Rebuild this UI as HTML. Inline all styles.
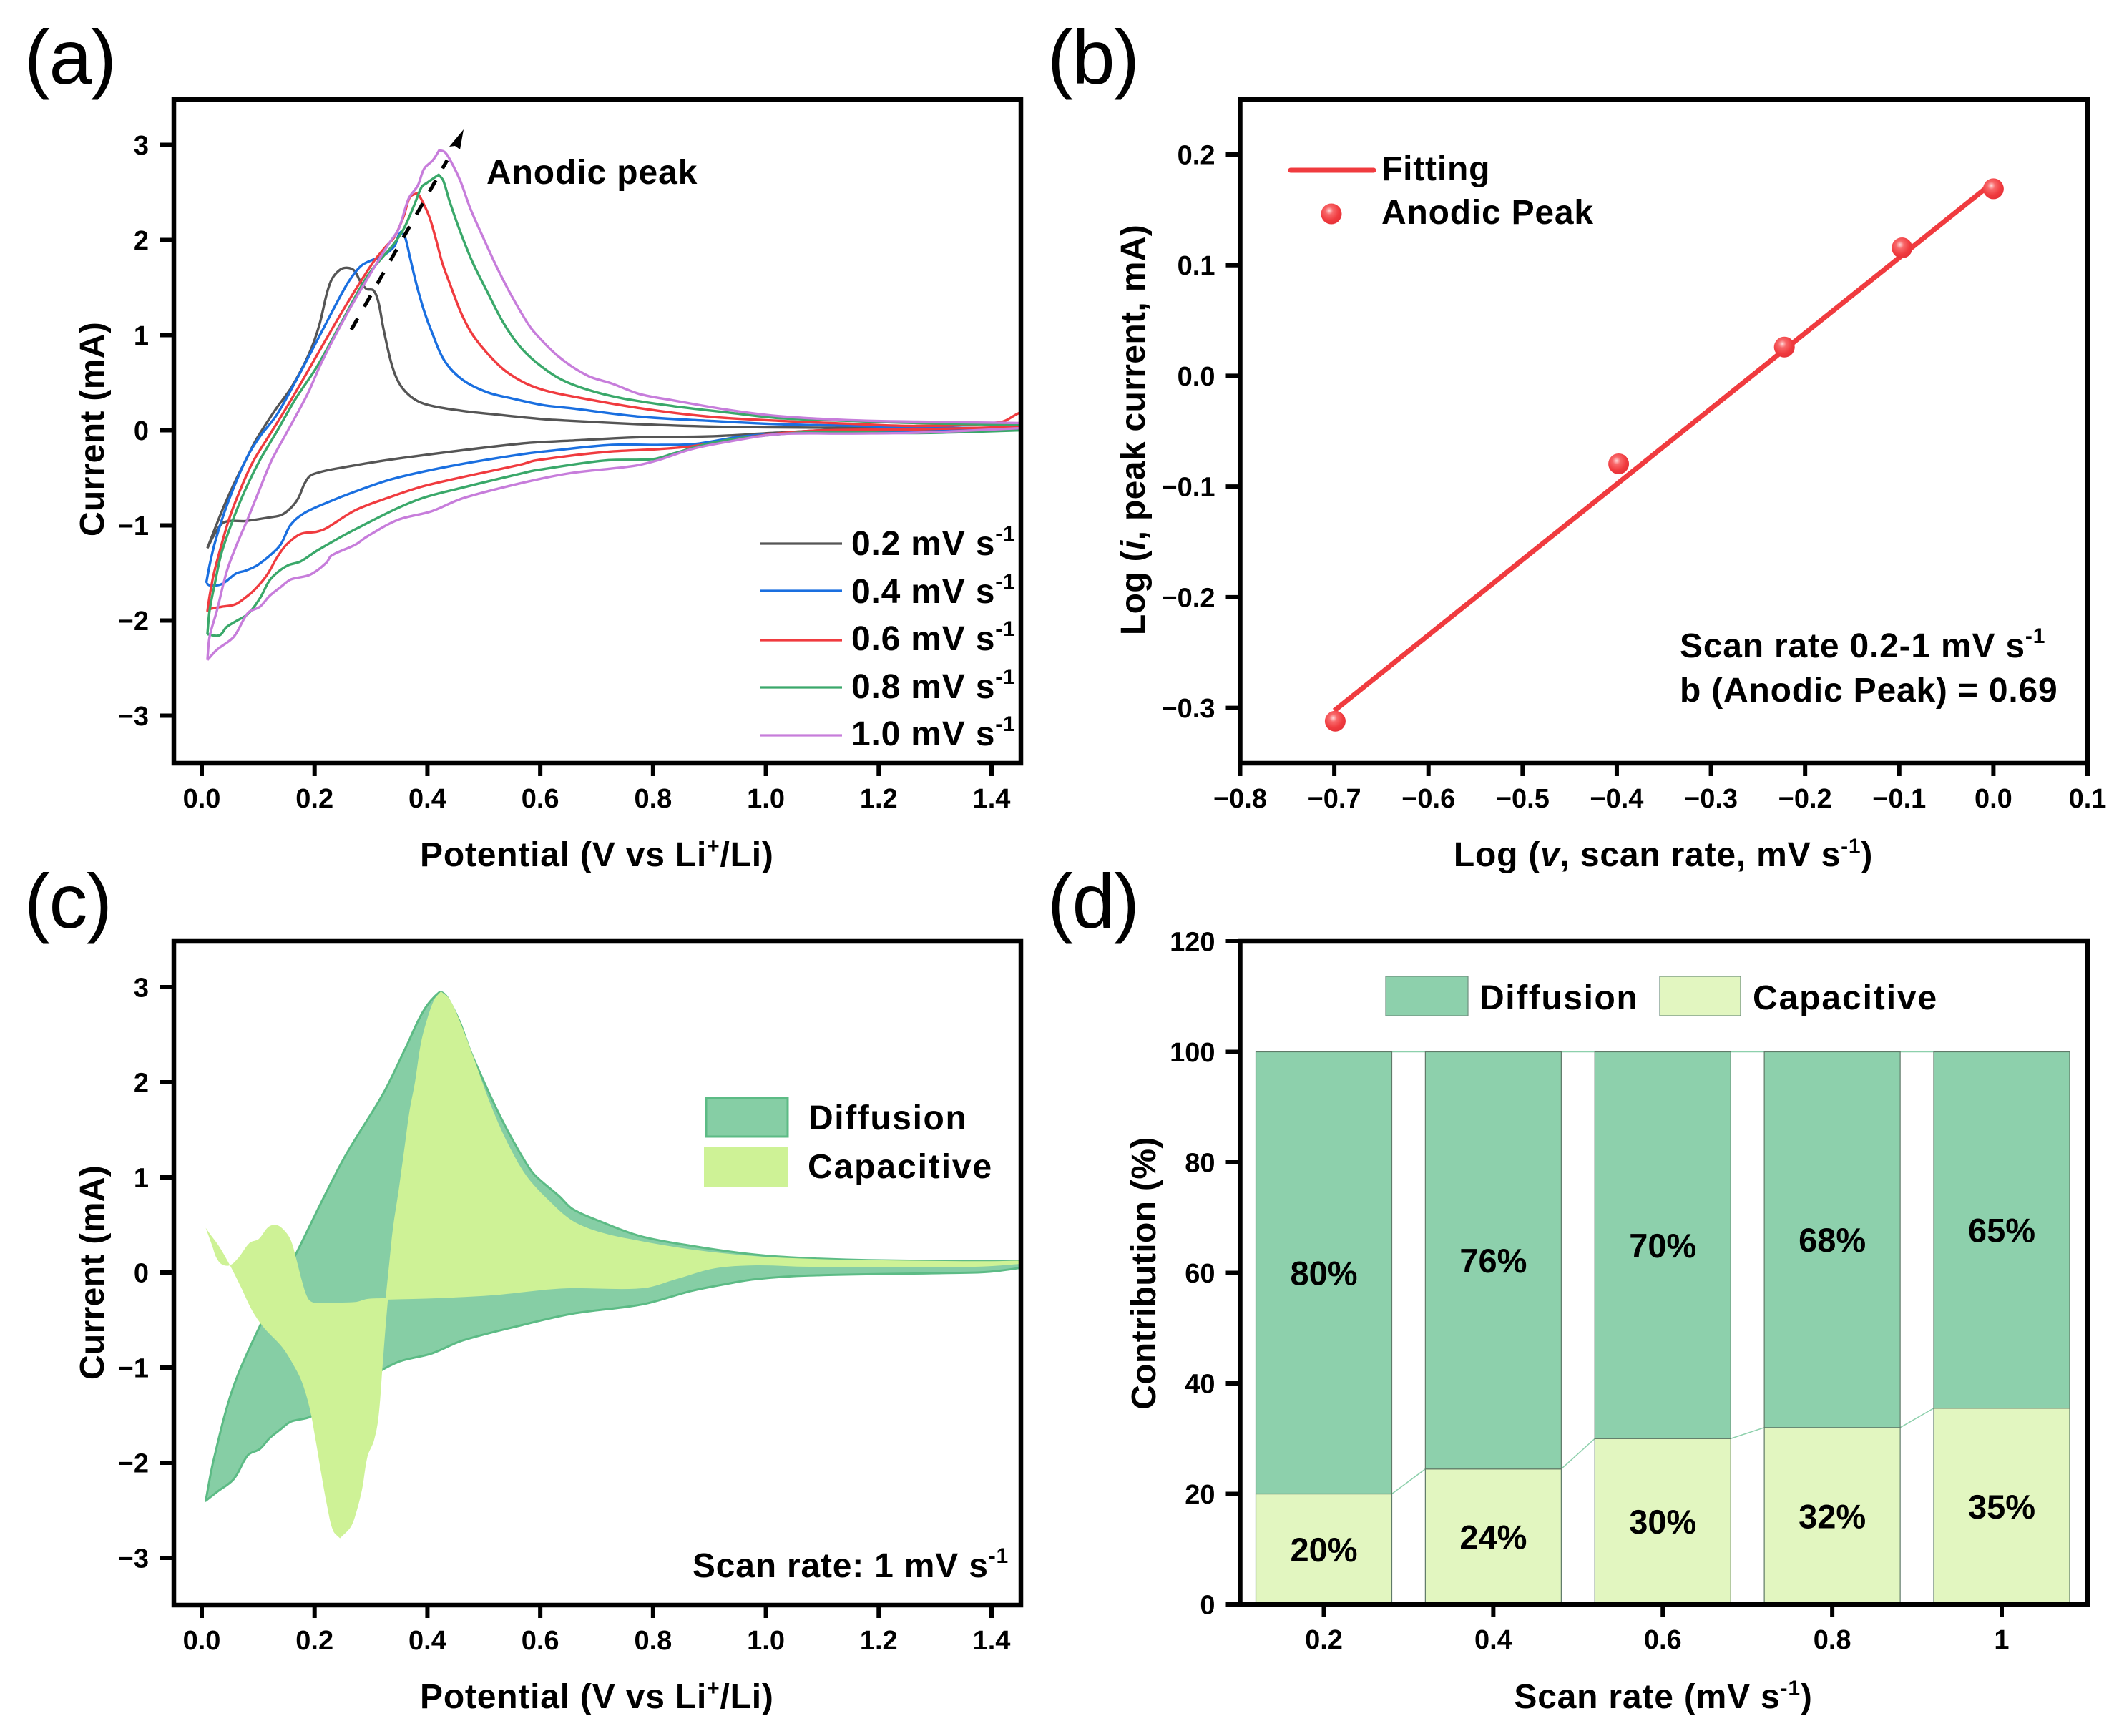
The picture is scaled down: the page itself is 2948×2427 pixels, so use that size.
<!DOCTYPE html>
<html lang="en">
<head>
<meta charset="utf-8">
<title>Electrochemical kinetics figure</title>
<style>
html,body{margin:0;padding:0;background:#fff;}
svg{display:block;}
text{font-family:"Liberation Sans",Arial,sans-serif;fill:#000;}
.t{font-weight:bold;font-size:48px;letter-spacing:.8px;}
.yt{letter-spacing:.35px;}
.s{font-size:30px;}
.lg{font-weight:bold;font-size:48px;letter-spacing:1.6px;}
.p{font-size:108px;font-weight:normal;letter-spacing:-1.5px;}
.tick{font-weight:bold;font-size:38px;}
.pct{font-weight:bold;font-size:47px;text-anchor:middle;}
</style>
</head>
<body>
<svg id="fig" xmlns="http://www.w3.org/2000/svg" width="2948" height="2427" viewBox="0 0 2948 2427">
  <defs>
    <clipPath id="clipA"><rect x="243" y="139" width="1184" height="928"/></clipPath>
    <clipPath id="clipC"><rect x="243" y="1316" width="1184" height="928"/></clipPath>
    <radialGradient id="ball" cx="0.4" cy="0.35" r="0.62">
      <stop offset="0" stop-color="#ffd9d9"/>
      <stop offset="0.3" stop-color="#f8686a"/>
      <stop offset="0.75" stop-color="#f03b3f"/>
      <stop offset="1" stop-color="#e8343a"/>
    </radialGradient>
  </defs>

  <g id="panelA">
    <g id="plotA" clip-path="url(#clipA)"></g>
    <line x1="491" y1="461" x2="625" y2="224" stroke="#000" stroke-width="5" stroke-dasharray="18 19"/>
    <polygon points="648,181 628,205 636,204 643,209" fill="#000"/>
    <text class="t" x="680" y="257" style="letter-spacing:.9px">Anodic peak</text>
    <text class="t yt" text-anchor="middle" transform="translate(145,600) rotate(-90)">Current (mA)</text>
    <text class="t" x="587" y="1211">Potential (V vs Li<tspan class="s" dy="-18">+</tspan><tspan dy="18">/Li)</tspan></text>
    <g>
      <line x1="1063" x2="1177" y1="760" y2="760" stroke="#555555" stroke-width="3.2"/>
      <text class="t" x="1190" y="776">0.2 mV s<tspan class="s" dy="-20">-1</tspan></text>
      <line x1="1063" x2="1177" y1="826" y2="826" stroke="#1a6fe0" stroke-width="3.2"/>
      <text class="t" x="1190" y="843">0.4 mV s<tspan class="s" dy="-20">-1</tspan></text>
      <line x1="1063" x2="1177" y1="895" y2="895" stroke="#f03b3f" stroke-width="3.2"/>
      <text class="t" x="1190" y="909">0.6 mV s<tspan class="s" dy="-20">-1</tspan></text>
      <line x1="1063" x2="1177" y1="961" y2="961" stroke="#3aa86a" stroke-width="3.2"/>
      <text class="t" x="1190" y="976">0.8 mV s<tspan class="s" dy="-20">-1</tspan></text>
      <line x1="1063" x2="1177" y1="1028" y2="1028" stroke="#c77ddb" stroke-width="3.2"/>
      <text class="t" x="1190" y="1042">1.0 mV s<tspan class="s" dy="-20">-1</tspan></text>
    </g>
    <text class="p" x="34" y="117">(a)</text>
  </g>

  <g id="panelB">
    <g id="plotB"></g>
    <line x1="1804" x2="1920" y1="238" y2="238" stroke="#f03b3f" stroke-width="7" stroke-linecap="round"/>
    <text class="t" x="1931" y="252">Fitting</text>
    <circle cx="1861" cy="299" r="14.5" fill="url(#ball)"/>
    <text class="t" x="1931" y="313">Anodic Peak</text>
    <text class="t" x="2348" y="919">Scan rate 0.2-1 mV s<tspan class="s" dy="-20">-1</tspan></text>
    <text class="t" x="2348" y="981">b (Anodic Peak) = 0.69</text>
    <text class="t yt" text-anchor="middle" transform="translate(1600,601) rotate(-90)">Log (<tspan font-style="italic">i</tspan>, peak current, mA)</text>
    <text class="t" text-anchor="middle" x="2325" y="1211">Log (<tspan font-style="italic">v</tspan>, scan rate, mV s<tspan class="s" dy="-18">-1</tspan><tspan dy="18">)</tspan></text>
    <text class="p" x="1464" y="117">(b)</text>
  </g>

  <g id="panelC">
    <g id="plotC" clip-path="url(#clipC)"></g>
    <rect x="987" y="1535" width="114" height="54" fill="#86cea5" stroke="#5cbb85" stroke-width="3"/>
    <text class="lg" x="1130" y="1579">Diffusion</text>
    <rect x="984" y="1603" width="118" height="57" fill="#cef296"/>
    <text class="lg" x="1129" y="1647" style="letter-spacing:1.9px">Capacitive</text>
    <text class="t" text-anchor="end" x="1410" y="2205">Scan rate: 1 mV s<tspan class="s" dy="-20">-1</tspan></text>
    <text class="t yt" text-anchor="middle" transform="translate(145,1779) rotate(-90)">Current (mA)</text>
    <text class="t" x="587" y="2388">Potential (V vs Li<tspan class="s" dy="-18">+</tspan><tspan dy="18">/Li)</tspan></text>
    <text class="p" x="34" y="1297">(c)</text>
  </g>

  <g id="panelD">
    <g id="plotD"></g>
    <rect x="1937" y="1365" width="115" height="55" fill="#8dd0ac" stroke="#6f8f7e" stroke-width="1.2"/>
    <text class="lg" x="2068" y="1411">Diffusion</text>
    <rect x="2320" y="1365" width="113" height="55" fill="#e2f6c0" stroke="#6f8f7e" stroke-width="1.2"/>
    <text class="lg" x="2450" y="1411" style="letter-spacing:1.9px">Capacitive</text>
    <text class="t yt" text-anchor="middle" transform="translate(1615,1780) rotate(-90)">Contribution (%)</text>
    <text class="t" text-anchor="middle" x="2325" y="2388">Scan rate (mV s<tspan class="s" dy="-18">-1</tspan><tspan dy="18">)</tspan></text>
    <text class="p" x="1464" y="1297">(d)</text>
  </g>
</svg>

<script>
// ---- panel (a): cyclic voltammetry loops, potential (V) and current (mA)
const cv02V = [.010,.023,.040,.061,.078,.095,.112,.133,.159,.190,.208,.222,.231,.245,.257,.270,.281,.292,.304,.313,.322,.338,.353,.376,.403,.462,.530,.606,.653,.776,.899,1.02,1.206,1.46,1.46,1.145,1.02,.899,.776,.653,.568,.357,.264,.196,.183,.171,.158,.141,.120,.078,.040,.023,.010];
const cv02I = [-1.24,-1.04,-.79,-.515,-.315,-.114,.049,.237,.451,.80,1.096,1.445,1.593,1.687,1.708,1.681,1.566,1.485,1.472,1.351,1.069,.666,.465,.33,.263,.204,.160,.116,.099,.063,.039,.03,.024,.024,.02,.009,-.026,-.065,-.074,-.11,-.139,-.29,-.377,-.465,-.553,-.716,-.816,-.891,-.916,-.954,-.966,-1.09,-1.24];

const cv04V = [.008,.014,.023,.040,.061,.082,.104,.133,.168,.213,.254,.272,.285,.304,.317,.331,.342,.349,.353,.360,.369,.381,.394,.408,.430,.462,.507,.553,.606,.653,.776,.899,1.022,1.145,1.268,1.46,1.46,1.268,1.083,.960,.874,.813,.727,.622,.568,.441,.336,.268,.230,.183,.158,.141,.128,.099,.078,.061,.035,.014,.008];
const cv04I = [-1.605,-1.417,-1.19,-.866,-.54,-.265,-.059,.162,.532,1.04,1.50,1.66,1.74,1.794,1.82,1.875,1.94,2.05,2.084,2.036,1.82,1.525,1.257,1.03,.733,.532,.398,.33,.263,.232,.143,.099,.063,.048,.03,.018,.02,-.006,-.02,-.065,-.145,-.154,-.154,-.214,-.252,-.377,-.515,-.653,-.741,-.866,-.991,-1.19,-1.28,-1.417,-1.475,-1.505,-1.618,-1.63,-1.605];

const cv06V = [.010,.014,.021,.031,.048,.069,.090,.116,.145,.175,.213,.258,.304,.326,.342,.358,.369,.381,.387,.403,.415,.426,.439,.462,.485,.530,.567,.604,.653,.776,.899,1.022,1.145,1.268,1.415,1.446,1.47,1.47,1.268,1.083,.960,.868,.807,.714,.591,.568,.399,.327,.272,.221,.204,.175,.150,.133,.116,.095,.078,.059,.035,.014,.010];
const cv06I = [-1.906,-1.743,-1.518,-1.292,-.941,-.615,-.34,-.089,.187,.487,.88,1.337,1.767,1.928,2.036,2.25,2.452,2.492,2.452,2.25,2.009,1.767,1.552,1.203,.962,.665,.515,.426,.36,.232,.143,.099,.069,.045,.084,.173,.24,.04,.009,-.005,-.08,-.169,-.199,-.229,-.318,-.357,-.578,-.716,-.841,-1.029,-1.066,-1.092,-1.204,-1.342,-1.518,-1.668,-1.756,-1.831,-1.856,-1.881,-1.906];

const cv08V = [.010,.014,.023,.035,.057,.078,.103,.133,.167,.204,.249,.295,.340,.358,.376,.390,.399,.420,.428,.439,.458,.480,.507,.534,.561,.591,.634,.684,.745,.837,.93,1.022,1.145,1.268,1.46,1.46,1.268,1.083,.96,.899,.837,.80,.714,.591,.568,.462,.378,.272,.204,.175,.154,.137,.120,.103,.082,.061,.044,.031,.010];
const cv08I = [-2.144,-1.894,-1.618,-1.292,-.916,-.615,-.315,-.014,.337,.666,1.15,1.633,1.955,2.116,2.358,2.56,2.6,2.686,2.626,2.412,2.09,1.767,1.445,1.136,.901,.723,.544,.426,.336,.253,.188,.128,.099,.075,.054,0,-.03,-.02,-.08,-.139,-.243,-.303,-.318,-.422,-.452,-.603,-.741,-1.041,-1.267,-1.38,-1.417,-1.48,-1.58,-1.768,-1.931,-2.006,-2.069,-2.157,-2.144];

const cv10V = [.010,.014,.027,.044,.061,.080,.103,.124,.154,.188,.213,.258,.295,.331,.349,.367,.383,.394,.410,.421,.430,.439,.458,.476,.498,.521,.544,.575,.591,.634,.684,.727,.776,.837,.93,1.022,1.145,1.268,1.46,1.46,1.268,1.145,1.022,.93,.868,.807,.764,.653,.568,.462,.407,.348,.293,.272,.230,.221,.192,.158,.141,.120,.103,.082,.057,.027,.010];
const cv10I = [-2.415,-2.17,-1.894,-1.49,-1.217,-.953,-.615,-.315,.011,.387,.72,1.23,1.606,1.955,2.116,2.438,2.573,2.747,2.841,2.943,2.927,2.855,2.626,2.331,2.036,1.74,1.47,1.15,1.02,.767,.574,.491,.381,.313,.217,.149,.107,.09,.075,.024,-.026,-.035,-.041,-.124,-.199,-.318,-.377,-.451,-.553,-.716,-.853,-.941,-1.117,-1.204,-1.317,-1.392,-1.518,-1.568,-1.643,-1.743,-1.856,-1.919,-2.17,-2.307,-2.415];

const seriesNames = ['cv-curve-0-2','cv-curve-0-4','cv-curve-0-6','cv-curve-0-8','cv-curve-1-0'];
const seriesColors = ['#555555','#1a6fe0','#f03b3f','#3aa86a','#c77ddb'];

const potentialTicks = [0,.2,.4,.6,.8,1,1.2,1.4];
const potentialLabels = ['0.0','0.2','0.4','0.6','0.8','1.0','1.2','1.4'];
const currentTicks = [3,2,1,0,-1,-2,-3];
const currentLabels = ['3','2','1','0','\u22121','\u22122','\u22123'];

// ---- panel (b): log-log peak current
const logRate = [-.699,-.398,-.222,-.097,0];
const logPeak = [-.312,-.0795,.026,.1156,.169];
const fitRate = [-.7,0];
const fitPeak = [-.3025,.175];
const logRateTicks = [-.8,-.7,-.6,-.5,-.4,-.3,-.2,-.1,0,.1];
const logRateLabels = ['\u22120.8','\u22120.7','\u22120.6','\u22120.5','\u22120.4','\u22120.3','\u22120.2','\u22120.1','0.0','0.1'];
const logPeakTicks = [.2,.1,0,-.1,-.2,-.3];
const logPeakLabels = ['0.2','0.1','0.0','\u22120.1','\u22120.2','\u22120.3'];

// ---- panel (c): total CV at 1 mV/s and capacitive part
const totalV = [.007,.021,.055,.104,.167,.25,.322,.361,.393,.421,.430,.439,.458,.476,.498,.521,.544,.575,.591,.634,.657,.709,.778,.867,.972,1.056,1.182,1.381,1.46,1.46,1.392,1.313,1.077,.983,.93,.867,.783,.657,.568,.462,.407,.348,.293,.272,.230,.221,.192,.158,.141,.120,.103,.082,.057,.027,.007];
const totalI = [-2.40,-1.97,-1.22,-.55,.195,1.178,1.885,2.357,2.75,2.945,2.927,2.855,2.626,2.331,2.036,1.74,1.47,1.15,1.02,.80,.669,.531,.381,.281,.193,.155,.13,.118,.125,.055,.005,-.007,-.032,-.07,-.12,-.195,-.333,-.433,-.553,-.716,-.853,-.941,-1.117,-1.204,-1.317,-1.392,-1.518,-1.568,-1.643,-1.743,-1.856,-1.919,-2.17,-2.307,-2.40];
const capacitiveV = [.007,.019,.026,.036,.05,.065,.085,.101,.118,.131,.143,.157,.167,.179,.189,.199,.225,.274,.293,.326,.332,.339,.349,.359,.368,.378,.388,.398,.412,.424,.439,.458,.483,.512,.541,.575,.614,.657,.709,.778,.867,.972,1.056,1.182,1.381,1.46,1.46,1.371,1.077,.983,.909,.841,.783,.657,.614,.517,.42,.33,.325,.320,.313,.305,.294,.284,.274,.264,.245,.233,.223,.211,.201,.191,.177,.162,.143,.109,.089,.070,.05,.031,.014,.007];
const capacitiveI = [.47,.273,.155,.084,.076,.155,.312,.352,.478,.501,.462,.352,.155,-.12,-.278,-.317,-.317,-.309,-.278,-.27,.076,.47,.863,1.295,1.689,2.003,2.397,2.633,2.868,2.955,2.876,2.633,2.239,1.767,1.374,1.02,.765,.544,.419,.331,.243,.176,.148,.13,.118,.125,.093,.06,.06,.075,.043,-.07,-.165,-.165,-.179,-.238,-.27,-.285,-.631,-1.025,-1.536,-1.772,-1.93,-2.283,-2.519,-2.676,-2.794,-2.716,-2.48,-2.086,-1.732,-1.418,-1.143,-.966,-.789,-.572,-.396,-.16,.076,.273,.41,.47];

// ---- panel (d): stacked contributions
const rateCategories = ['0.2','0.4','0.6','0.8','1'];
const capacitiveShare = [20,24.5,30,32,35.5];
const diffusionShare = [80,75.5,70,68,64.5];
const capacitiveText = ['20%','24%','30%','32%','35%'];
const diffusionText = ['80%','76%','70%','68%','65%'];
const shareTicks = [0,20,40,60,80,100,120];
const shareLabels = ['0','20','40','60','80','100','120'];

const NS = 'http://www.w3.org/2000/svg';
function mk(tag, attrs, parent) {
  const e = document.createElementNS(NS, tag);
  for (const k in attrs) e.setAttribute(k, attrs[k]);
  parent.appendChild(e);
  return e;
}
function scale(d0, d1, r0, r1) {
  return function (v) { return r0 + (v - d0) * (r1 - r0) / (d1 - d0); };
}
// smooth path through mapped data points; sharp turns stay as corners
function smoothPath(xs, ys, sx, sy, closed) {
  const P = xs.map(function (x, i) { return [sx(x), sy(ys[i])]; });
  const n = P.length;
  function unit(a, b) {
    const dx = b[0] - a[0], dy = b[1] - a[1], l = Math.hypot(dx, dy) || 1;
    return [dx / l, dy / l];
  }
  const tan = P.map(function (p, i) {
    if (i === 0 || i === n - 1) return null;
    const u = unit(P[i - 1], p), v = unit(p, P[i + 1]);
    if (u[0] * v[0] + u[1] * v[1] < 0.3) return null;
    return unit(P[i - 1], P[i + 1]);
  });
  let d = 'M' + P[0][0].toFixed(1) + ' ' + P[0][1].toFixed(1);
  for (let i = 0; i < n - 1; i++) {
    const a = P[i], b = P[i + 1];
    const l = Math.hypot(b[0] - a[0], b[1] - a[1]) * 0.33;
    const t0 = tan[i] || unit(a, b), t1 = tan[i + 1] || unit(a, b);
    d += 'C' + (a[0] + t0[0] * l).toFixed(1) + ' ' + (a[1] + t0[1] * l).toFixed(1) + ' ' +
         (b[0] - t1[0] * l).toFixed(1) + ' ' + (b[1] - t1[1] * l).toFixed(1) + ' ' +
         b[0].toFixed(1) + ' ' + b[1].toFixed(1);
  }
  return closed ? d + 'Z' : d;
}
function frame(parent, prefix, left, top, right, bottom) {
  const r = mk('rect', {x: left, y: top, width: right - left, height: bottom - top, fill: 'none', stroke: '#000', 'stroke-width': 6.5}, parent);
  
  
}
function xAxis(parent, prefix, ticks, labels, sx, bottom) {
  ticks.forEach(function (v, i) {
    const t = mk('line', {x1: sx(v), x2: sx(v), y1: bottom, y2: bottom + 18, stroke: '#000', 'stroke-width': 6}, parent);
    
    
    const l = mk('text', {x: sx(v), y: bottom + 62, 'class': 'tick', 'text-anchor': 'middle'}, parent);
    
    
    l.textContent = labels[i];
  });
}
function yAxis(parent, prefix, ticks, labels, sy, left) {
  ticks.forEach(function (v, i) {
    const t = mk('line', {x1: left - 20, x2: left, y1: sy(v), y2: sy(v), stroke: '#000', 'stroke-width': 6}, parent);
    
    
    const l = mk('text', {x: left - 35, y: sy(v) + 13.5, 'class': 'tick', 'text-anchor': 'end'}, parent);
    
    
    l.textContent = labels[i];
  });
}

// Panel (a)
const xA = scale(0, 1.4, 282, 1386);
const yA = scale(0, 3, 601.5, 202.5);
const plotA = document.getElementById('plotA');
const panelA = document.getElementById('panelA');
const cvVs = [cv02V, cv04V, cv06V, cv08V, cv10V];
const cvIs = [cv02I, cv04I, cv06I, cv08I, cv10I];
cvVs.forEach(function (vs, k) {
  const line = mk('path', {d: smoothPath(vs, cvIs[k], xA, yA, false), fill: 'none', stroke: seriesColors[k], 'stroke-width': 3.4, 'stroke-linejoin': 'round'}, plotA);
  
  
});
frame(panelA, 'panel-a', 243, 139, 1427, 1067);
xAxis(panelA, 'panel-a', potentialTicks, potentialLabels, xA, 1067);
yAxis(panelA, 'panel-a', currentTicks, currentLabels, yA, 243);

// Panel (b)
const xB = scale(-.8, .1, 1733.5, 2918);
const yB = scale(-.35, .25, 1067, 138.6);
const plotB = document.getElementById('plotB');
const fit = mk('line', {x1: xB(fitRate[0]), y1: yB(fitPeak[0]), x2: xB(fitRate[1]), y2: yB(fitPeak[1]), stroke: '#f03b3f', 'stroke-width': 7}, plotB);


logRate.forEach(function (v, i) {
  const c = mk('circle', {cx: xB(v), cy: yB(logPeak[i]), r: 14.5, fill: 'url(#ball)'}, plotB);
  
  
});
frame(plotB, 'panel-b', 1733.5, 139, 2918, 1067);
xAxis(plotB, 'panel-b', logRateTicks, logRateLabels, xB, 1067);
yAxis(plotB, 'panel-b', logPeakTicks, logPeakLabels, yB, 1733.5);

// Panel (c)
const yC = scale(0, 3, 1779, 1380);
const plotC = document.getElementById('plotC');
const panelC = document.getElementById('panelC');
const totalArea = mk('path', {d: smoothPath(totalV, totalI, xA, yC, true), fill: '#86cea5', stroke: '#5cbb85', 'stroke-width': 3, 'stroke-linejoin': 'round'}, plotC);


const capArea = mk('path', {d: smoothPath(capacitiveV, capacitiveI, xA, yC, true), fill: '#cef296', stroke: 'none'}, plotC);


frame(panelC, 'panel-c', 243, 1316, 1427, 2244);
xAxis(panelC, 'panel-c', potentialTicks, potentialLabels, xA, 2244);
yAxis(panelC, 'panel-c', currentTicks, currentLabels, yC, 243);

// Panel (d)
const xD = scale(0, 4, 1850.5, 2798);
const yD = scale(0, 120, 2243, 1316);
const barW = 190;
const plotD = document.getElementById('plotD');
rateCategories.forEach(function (cat, i) {
  if (i < rateCategories.length - 1) {
    const c1 = mk('line', {x1: xD(i) + barW / 2, x2: xD(i + 1) - barW / 2, y1: yD(capacitiveShare[i]), y2: yD(capacitiveShare[i + 1]), stroke: '#8dd0ac', 'stroke-width': 1.5}, plotD);
    
    
    const c2 = mk('line', {x1: xD(i) + barW / 2, x2: xD(i + 1) - barW / 2, y1: yD(capacitiveShare[i] + diffusionShare[i]), y2: yD(capacitiveShare[i + 1] + diffusionShare[i + 1]), stroke: '#8dd0ac', 'stroke-width': 1.5}, plotD);
    
    
  }
  const top = capacitiveShare[i] + diffusionShare[i];
  const bc = mk('rect', {x: xD(i) - barW / 2, y: yD(capacitiveShare[i]), width: barW, height: yD(0) - yD(capacitiveShare[i]), fill: '#e2f6c0', stroke: '#5f7a68', 'stroke-width': 1.2}, plotD);
  
  
  const bd = mk('rect', {x: xD(i) - barW / 2, y: yD(top), width: barW, height: yD(capacitiveShare[i]) - yD(top), fill: '#8dd0ac', stroke: '#5f7a68', 'stroke-width': 1.2}, plotD);
  
  
  const tc = mk('text', {x: xD(i), y: yD(capacitiveShare[i] / 2) + 17, 'class': 'pct'}, plotD);
  
  
  tc.textContent = capacitiveText[i];
  const td = mk('text', {x: xD(i), y: yD(capacitiveShare[i] + diffusionShare[i] / 2) + 17, 'class': 'pct'}, plotD);
  
  
  td.textContent = diffusionText[i];
});
frame(plotD, 'panel-d', 1733.5, 1316, 2918, 2243);
xAxis(plotD, 'panel-d', [0, 1, 2, 3, 4], rateCategories, xD, 2243);
yAxis(plotD, 'panel-d', shareTicks, shareLabels, yD, 1733.5);
</script>
</body>
</html>
